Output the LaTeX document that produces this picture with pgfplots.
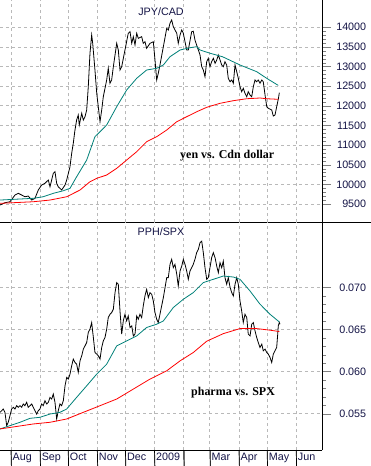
\documentclass[border=0pt]{standalone}
\usepackage{pgfplots}
\pgfplotsset{compat=1.18}
\usepackage{fontspec}
\setmainfont{Liberation Sans}
\newfontfamily\serifb{Liberation Serif}
\definecolor{tealma}{RGB}{0,128,120}
\definecolor{navy}{RGB}{20,20,70}
\tikzset{gridline/.style={color=gray!55, dashed, line width=0.8bp}}
\pgfplotsset{
 panel/.style={
   width=322bp, scale only axis,
   xmin=-11.7, xmax=331.5,
   axis x line*=bottom, axis y line*=right,
   xtick={0,31,61,92,122,153,184,212,243,273,304},
   tick align=outside,
   major tick length=9bp, minor tick length=4bp,
   minor y tick num=4,
   scaled y ticks=false,
   axis line style={line width=0.8bp},
   yticklabel style={font=\fontsize{10.8}{12}\selectfont, color=navy, anchor=west, inner sep=0pt, text width=35bp, align=right},
   xticklabel style={font=\fontsize{10.8}{12}\selectfont, color=navy, anchor=north west, inner sep=0pt, xshift=1.5bp, yshift=6bp},
   /pgf/number format/assume math mode=true,
 }
}
\begin{document}
\begin{tikzpicture}
\useasboundingbox (0,0) rectangle (371bp,466bp);
\begin{axis}[panel, at={(0,244bp)}, anchor=south west, height=222bp,
  ymin=9042, ymax=14695, ytick={9500,10000,...,14000},
  xticklabels={}, xtick style={/pgfplots/major tick length=0pt},
  /pgf/number format/set thousands separator={}]
\addplot[gridline, forget plot] coordinates {(0,9042)(0,14695)};
\addplot[gridline, forget plot] coordinates {(31,9042)(31,14695)};
\addplot[gridline, forget plot] coordinates {(61,9042)(61,14695)};
\addplot[gridline, forget plot] coordinates {(92,9042)(92,14695)};
\addplot[gridline, forget plot] coordinates {(122,9042)(122,14695)};
\addplot[gridline, forget plot] coordinates {(153,9042)(153,14695)};
\addplot[gridline, forget plot] coordinates {(184,9042)(184,14695)};
\addplot[gridline, forget plot] coordinates {(212,9042)(212,14695)};
\addplot[gridline, forget plot] coordinates {(243,9042)(243,14695)};
\addplot[gridline, forget plot] coordinates {(273,9042)(273,14695)};
\addplot[gridline, forget plot] coordinates {(304,9042)(304,14695)};
\addplot[gridline, forget plot] coordinates {(-11.7,9500)(331.5,9500)};
\addplot[gridline, forget plot] coordinates {(-11.7,10000)(331.5,10000)};
\addplot[gridline, forget plot] coordinates {(-11.7,10500)(331.5,10500)};
\addplot[gridline, forget plot] coordinates {(-11.7,11000)(331.5,11000)};
\addplot[gridline, forget plot] coordinates {(-11.7,11500)(331.5,11500)};
\addplot[gridline, forget plot] coordinates {(-11.7,12000)(331.5,12000)};
\addplot[gridline, forget plot] coordinates {(-11.7,12500)(331.5,12500)};
\addplot[gridline, forget plot] coordinates {(-11.7,13000)(331.5,13000)};
\addplot[gridline, forget plot] coordinates {(-11.7,13500)(331.5,13500)};
\addplot[gridline, forget plot] coordinates {(-11.7,14000)(331.5,14000)};
\addplot[black, line width=0.8bp] coordinates {(-11.7,9474)(-6.4,9533)(-1.1,9558)(4.3,9729)(7.8,9772)(11.4,9729)(14.9,9685)(18.4,9703)(22.1,9601)(25.6,9645)(29.1,9856)(32.7,9983)(36.2,10027)(39.8,10111)(41.6,9940)(45.1,10281)(46.9,10322)(48.7,10027)(50.4,9940)(54.0,9856)(57.6,9983)(59.4,10111)(62.9,10449)(64.7,10791)(66.4,11045)(68.2,11384)(70.0,11639)(71.7,11766)(72.8,11512)(75.4,11810)(77.1,11639)(78.9,11723)(80.7,11894)(82.4,12487)(84.2,13338)(86.0,13804)(87.1,13592)(89.5,12912)(91.4,12319)(94.9,11596)(96.7,11894)(98.4,12232)(102.0,12658)(103.7,12956)(105.5,12574)(107.3,12658)(109.1,12996)(112.7,13592)(114.4,13422)(116.2,12912)(118.0,12996)(121.5,13422)(125.0,13847)(126.9,13888)(128.7,13592)(130.4,13761)(132.2,13549)(134.0,13847)(135.7,13720)(139.3,13761)(141.0,13592)(142.8,13633)(144.6,13465)(148.2,13592)(151.7,13633)(153.5,13167)(155.3,12658)(157.0,12828)(158.8,13040)(162.4,13506)(166.0,13975)(167.7,13931)(169.5,14102)(171.3,14186)(173.0,14015)(176.7,13847)(178.3,13592)(180.2,13804)(182.0,13931)(183.7,13847)(185.5,13633)(187.3,13422)(189.0,13422)(192.6,13888)(194.3,13900)(196.1,13677)(197.9,13549)(201.5,13294)(203.3,12996)(205.0,12912)(206.8,12742)(208.6,13124)(210.3,13210)(212.1,12996)(213.9,13124)(215.7,13210)(217.5,13083)(219.3,13167)(221.0,13294)(222.8,13167)(224.6,13040)(226.3,12996)(228.1,13124)(229.9,13040)(231.6,12701)(233.5,12614)(235.3,12658)(237.0,12574)(238.8,13040)(240.6,12869)(242.3,12701)(244.1,12487)(245.9,12360)(247.6,12446)(249.4,12319)(251.3,12232)(252.9,12360)(254.8,12276)(256.6,12232)(258.3,12487)(260.1,12658)(261.9,12614)(263.6,12658)(265.4,12574)(267.3,12658)(268.9,12614)(270.8,12276)(272.6,11978)(274.3,11937)(277.9,11894)(279.6,11740)(281.4,11766)(283.2,11978)(285.1,12192)(286.0,12334)};
\addplot[tealma, line width=0.8bp] coordinates {(-11.7,9601)(23.8,9645)(34.4,9685)(45.1,9772)(55.8,9838)(62.9,9899)(70.0,10195)(80.7,10620)(89.5,11214)(94.9,11341)(102.0,11512)(112.7,11978)(123.3,12403)(134.0,12701)(144.6,12912)(155.3,12956)(162.4,13040)(169.5,13251)(180.2,13422)(190.8,13480)(198.0,13506)(201.5,13422)(212.1,13340)(225.5,13250)(244.1,13040)(261.9,12870)(272.6,12700)(284.9,12520)};
\addplot[red, line width=0.8bp] coordinates {(-11.7,9517)(23.8,9558)(41.6,9601)(59.4,9685)(73.6,9856)(84.2,10067)(91.4,10154)(102.0,10238)(112.7,10409)(123.3,10620)(134.0,10832)(144.6,11086)(155.3,11214)(166.0,11384)(176.7,11596)(187.3,11723)(198.0,11850)(208.6,11962)(222.8,12064)(237.0,12131)(251.3,12181)(265.4,12199)(272.6,12181)(284.9,12166)};
\node[font=\fontsize{10.8}{12}\selectfont, color=navy, fill=white, inner sep=1pt] at (axis description cs:0.5,0.946) {JPY/CAD};
\node[font=\serifb\bfseries\fontsize{12}{14}\selectfont, anchor=west, inner sep=0pt] at (axis cs:180.2,10722) {yen vs. Cdn dollar};
\end{axis}
\draw[line width=0.8bp] (0,244bp) -- (371bp,244bp);
\begin{axis}[panel, at={(0,16bp)}, anchor=south west, height=228bp, clip=false,
  ymin=0.05069, ymax=0.07775, ytick={0.055,0.060,0.065,0.070},
  xticklabels={Aug,Sep,Oct,Nov,Dec,2009,,Mar,Apr,May,Jun},
  xtick style={/pgfplots/major tick length=16bp},
  yticklabel={\pgfmathprintnumber[fixed,precision=3,zerofill]{\tick}}]
\addplot[gridline, forget plot] coordinates {(0,0.05069)(0,0.07775)};
\addplot[gridline, forget plot] coordinates {(31,0.05069)(31,0.07775)};
\addplot[gridline, forget plot] coordinates {(61,0.05069)(61,0.07775)};
\addplot[gridline, forget plot] coordinates {(92,0.05069)(92,0.07775)};
\addplot[gridline, forget plot] coordinates {(122,0.05069)(122,0.07775)};
\addplot[gridline, forget plot] coordinates {(153,0.05069)(153,0.07775)};
\addplot[gridline, forget plot] coordinates {(184,0.05069)(184,0.07775)};
\addplot[gridline, forget plot] coordinates {(212,0.05069)(212,0.07775)};
\addplot[gridline, forget plot] coordinates {(243,0.05069)(243,0.07775)};
\addplot[gridline, forget plot] coordinates {(273,0.05069)(273,0.07775)};
\addplot[gridline, forget plot] coordinates {(304,0.05069)(304,0.07775)};
\addplot[gridline, forget plot] coordinates {(-11.7,0.055)(331.5,0.055)};
\addplot[gridline, forget plot] coordinates {(-11.7,0.060)(331.5,0.060)};
\addplot[gridline, forget plot] coordinates {(-11.7,0.065)(331.5,0.065)};
\addplot[gridline, forget plot] coordinates {(-11.7,0.070)(331.5,0.070)};
\pgfplotsinvokeforeach{0,31,61,92,122,153,184,212,243,273,304}{\draw[black, line width=0.7bp] (axis cs:#1,0.05069) -- ++(0,-16bp);}
\addplot[black, line width=0.8bp] coordinates {(-11.7,0.05516)(-9.9,0.05535)(-8.2,0.05556)(-6.4,0.05516)(-4.6,0.05358)(-2.9,0.05398)(-1.1,0.05476)(0.7,0.05556)(2.5,0.05576)(4.3,0.05556)(6.1,0.05595)(7.8,0.05576)(9.6,0.05595)(11.4,0.05576)(13.1,0.05615)(14.9,0.05595)(16.7,0.05635)(18.4,0.05576)(20.3,0.05595)(22.1,0.05615)(23.8,0.05576)(25.6,0.05535)(27.4,0.05496)(29.1,0.05535)(30.9,0.05556)(32.7,0.05615)(34.4,0.05595)(36.2,0.05654)(38.1,0.05615)(39.8,0.05635)(41.6,0.05694)(43.4,0.05674)(45.1,0.05733)(46.9,0.05635)(48.7,0.05437)(50.4,0.05535)(52.2,0.05615)(54.0,0.05595)(55.8,0.05654)(57.6,0.05831)(59.4,0.05931)(61.1,0.05911)(62.9,0.0597)(64.7,0.06068)(66.4,0.06148)(68.2,0.06108)(70.0,0.06088)(71.7,0.0599)(73.6,0.06127)(75.4,0.06187)(77.1,0.06266)(78.9,0.06305)(80.7,0.06345)(82.4,0.06464)(84.2,0.06503)(86.0,0.06582)(87.8,0.06404)(89.5,0.06227)(91.4,0.06207)(93.1,0.06187)(94.9,0.06148)(96.7,0.06286)(98.4,0.06364)(100.2,0.06404)(102.0,0.06503)(103.7,0.06641)(105.5,0.0668)(107.3,0.067)(109.1,0.0674)(110.9,0.06937)(112.7,0.07056)(114.4,0.07036)(116.2,0.06719)(118.0,0.06444)(119.7,0.06601)(121.5,0.0668)(123.3,0.06601)(125.0,0.0666)(126.9,0.06523)(128.7,0.06542)(130.4,0.06423)(132.2,0.06444)(134.0,0.0666)(135.7,0.06621)(137.5,0.0668)(139.3,0.06641)(141.0,0.06779)(142.8,0.06897)(144.6,0.06976)(146.4,0.06878)(148.2,0.06937)(150.0,0.06917)(151.7,0.06838)(153.5,0.067)(155.3,0.06621)(157.0,0.06582)(158.8,0.0668)(160.6,0.06779)(162.4,0.06878)(164.2,0.06996)(166.0,0.07115)(167.7,0.07115)(169.5,0.07272)(171.3,0.07332)(173.0,0.07233)(174.8,0.07272)(176.7,0.07154)(178.3,0.07015)(180.2,0.07193)(182.0,0.07252)(183.7,0.07332)(185.5,0.07272)(187.3,0.07193)(189.0,0.07095)(190.8,0.07193)(192.6,0.07233)(194.3,0.07272)(196.1,0.07332)(197.9,0.07411)(199.7,0.0745)(201.5,0.07529)(203.3,0.07548)(205.0,0.07411)(206.8,0.07233)(208.6,0.07095)(210.3,0.07115)(212.1,0.07233)(213.9,0.07352)(215.7,0.07411)(217.5,0.07352)(219.3,0.07252)(221.0,0.07174)(222.8,0.07292)(224.6,0.07233)(226.3,0.07311)(228.1,0.07115)(229.9,0.07036)(231.6,0.07115)(233.5,0.07)(235.3,0.06937)(237.0,0.06897)(238.8,0.07036)(240.6,0.07115)(242.3,0.07036)(244.1,0.06838)(245.9,0.06719)(247.6,0.06582)(249.4,0.0668)(251.3,0.06641)(252.9,0.06444)(254.8,0.06423)(256.6,0.06562)(258.3,0.06582)(260.1,0.06483)(261.9,0.06404)(263.6,0.06345)(265.4,0.06286)(267.3,0.06325)(268.9,0.06246)(270.8,0.06266)(272.6,0.06227)(274.3,0.06207)(276.1,0.06168)(277.9,0.06108)(279.6,0.06207)(281.4,0.06246)(283.2,0.06286)(284.3,0.06444)(284.9,0.06542)(286.0,0.06582)(286.7,0.06562)};
\addplot[tealma, line width=0.8bp] coordinates {(-11.7,0.05319)(9.6,0.05398)(20.3,0.05445)(30.9,0.05457)(41.6,0.05496)(52.2,0.05516)(59.4,0.05556)(70.0,0.05694)(80.7,0.05831)(91.4,0.0597)(102.0,0.06088)(112.7,0.06305)(123.3,0.06364)(134.0,0.06423)(144.6,0.06523)(155.3,0.06562)(162.4,0.06601)(173.0,0.0676)(183.7,0.06858)(194.3,0.06937)(205.0,0.07056)(215.7,0.07095)(226.3,0.07134)(237.0,0.07122)(244.1,0.07095)(254.8,0.06956)(265.4,0.06800)(276.1,0.0668)(286.0,0.06589)};
\addplot[red, line width=0.8bp] coordinates {(-11.7,0.05319)(23.8,0.05378)(41.6,0.05398)(59.4,0.05437)(77.1,0.05516)(94.9,0.05595)(112.7,0.05674)(130.4,0.05792)(148.2,0.05911)(166.0,0.06009)(180.2,0.06127)(194.3,0.06226)(208.6,0.0636)(226.3,0.0645)(244.1,0.0651)(261.9,0.0651)(276.1,0.06491)(286.0,0.06475)};
\node[font=\fontsize{10.8}{12}\selectfont, color=navy, fill=white, inner sep=1pt] at (axis description cs:0.5,0.956) {PPH/SPX};
\node[font=\serifb\bfseries\fontsize{12}{14}\selectfont, anchor=west, inner sep=0pt] at (axis cs:191.9,0.05746) {pharma vs. SPX};
\end{axis}
\end{tikzpicture}
\end{document}
